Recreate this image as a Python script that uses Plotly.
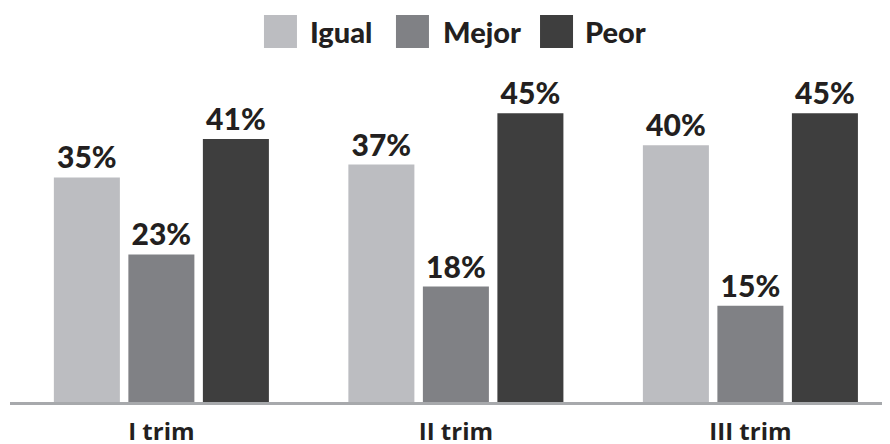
import plotly.graph_objects as go

# data
trimestres = ['I trim', 'II trim', 'III trim']
igual = [35, 37, 40]
mejor = [23, 18, 15]
peor = [41, 45, 45]

series = [('Igual', igual, '#bcbdc1'),
          ('Mejor', mejor, '#808185'),
          ('Peor', peor, '#3e3e3e')]

FONT = 'Lato'
TXT = '#231f20'

fig = go.Figure()
for name, vals, color in series:
    fig.add_trace(go.Bar(x=trimestres,
                         y=vals,
                         name=name,
                         marker_color=color,
                         marker_line_width=0,
                         texttemplate='%{y}%',
                         textposition='outside',
                         constraintext='none',
                         cliponaxis=False,
                         textfont=dict(family=FONT, size=30, color=TXT, weight=900),
                         showlegend=False))

# legend drawn by hand so the squares can be big
leg_sq = [0.2886, 0.4386, 0.6023]
leg_tx = [0.3386, 0.4898, 0.6511]
for (name, vals, color), xs, xt in zip(series, leg_sq, leg_tx):
    fig.add_shape(type='rect', xref='paper', yref='paper',
                  x0=xs, x1=xs + 0.0375, y0=1.035, y1=1.1316,
                  fillcolor=color, line_width=0)
    fig.add_annotation(text=name, xref='paper', yref='paper',
                       x=xt, y=1.0833, xanchor='left', yanchor='middle',
                       showarrow=False,
                       font=dict(family=FONT, size=29, color=TXT, weight=900))

# page body has an 8px margin, so the margins make up for it
fig.update_layout(barmode='group',
                  bargap=0.241,
                  bargroupgap=0.114,
                  width=890,
                  height=444,
                  margin=dict(l=2, r=8, t=52, b=50),
                  paper_bgcolor='white',
                  plot_bgcolor='white')
fig.update_xaxes(range=[-0.514, 2.474], automargin=False,
                 showline=True, linecolor='#a7a9ac', linewidth=3,
                 ticks='', ticklabelstandoff=6,
                 tickfont=dict(family='Open Sans', size=24, color=TXT, weight=700))
fig.update_yaxes(range=[0, 53.3], visible=False, showgrid=False, automargin=False)

fig.write_html('out.html')
